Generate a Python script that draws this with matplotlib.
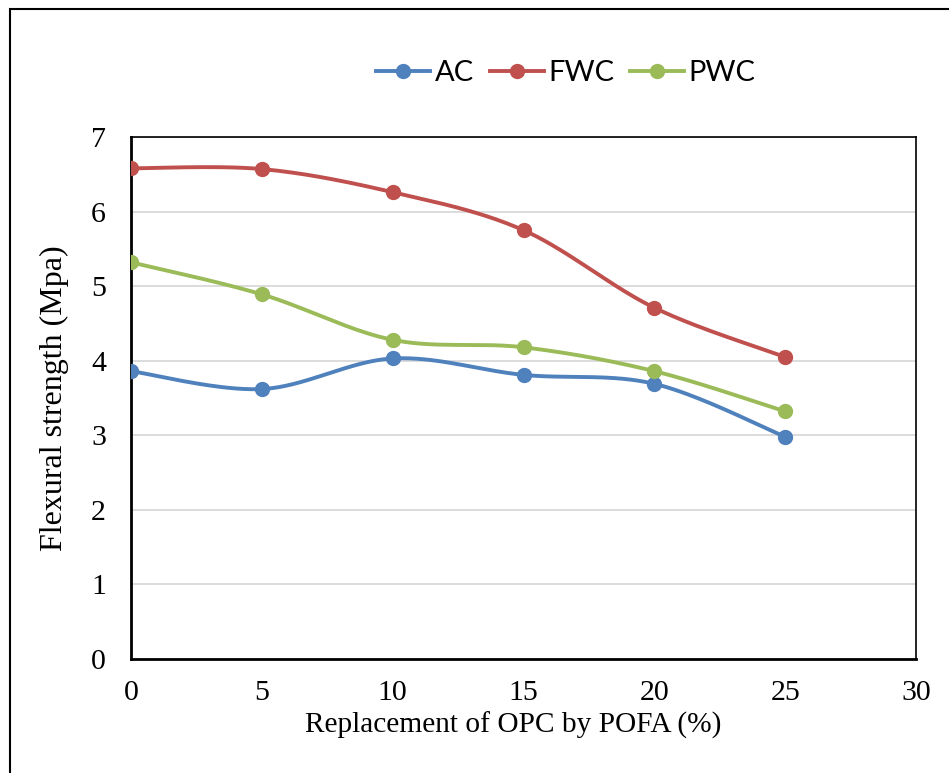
import numpy as np
import matplotlib
matplotlib.use("Agg")
import matplotlib.pyplot as plt
from matplotlib.patches import Rectangle

replacement = [0, 5, 10, 15, 20, 25]
ac = [3.86, 3.62, 4.03, 3.81, 3.69, 2.98]
fwc = [6.58, 6.57, 6.26, 5.75, 4.71, 4.05]
pwc = [5.32, 4.89, 4.28, 4.18, 3.86, 3.32]
series_names = ["AC", "FWC", "PWC"]
colors = ["#4F81BD", "#C0504D", "#9BBB59"]
x_ticks = [0, 5, 10, 15, 20, 25, 30]
y_ticks = [0, 1, 2, 3, 4, 5, 6, 7]


def smooth(x, y, n=40):
    x = np.asarray(x, float)
    y = np.asarray(y, float)
    px = np.concatenate([[x[0]], x, [x[-1]]])
    py = np.concatenate([[y[0]], y, [y[-1]]])
    xs, ys = [], []
    t = np.linspace(0, 1, n)
    for i in range(len(x) - 1):
        p0 = np.array([px[i], py[i]])
        p1 = np.array([px[i + 1], py[i + 1]])
        p2 = np.array([px[i + 2], py[i + 2]])
        p3 = np.array([px[i + 3], py[i + 3]])
        c1 = p1 + (p2 - p0) / 6.0
        c2 = p2 - (p3 - p1) / 6.0
        b = ((1 - t) ** 3)[:, None] * p1 + (3 * (1 - t) ** 2 * t)[:, None] * c1 \
            + (3 * (1 - t) * t ** 2)[:, None] * c2 + (t ** 3)[:, None] * p2
        xs.append(b[:, 0])
        ys.append(b[:, 1])
    return np.concatenate(xs), np.concatenate(ys)


fig = plt.figure(figsize=(9.49, 7.73), dpi=100)
fig.patches.append(Rectangle((10 / 949, -0.1), 1.2, (1 - 9 / 773) + 0.1,
                             transform=fig.transFigure, fill=False,
                             edgecolor="black", linewidth=1.5, zorder=0))

ax = fig.add_axes([131 / 949, 1 - 659 / 773, 785 / 949, 522 / 773])
ax.set_xlim(0, 30)
ax.set_ylim(0, 7)

handles = []
for name, vals, c in zip(series_names, [ac, fwc, pwc], colors):
    sx, sy = smooth(replacement, vals)
    ax.plot(sx, sy, color=c, linewidth=2.8, solid_capstyle="round", zorder=3)
    ax.plot(replacement, vals, linestyle="none", marker="o", markersize=10,
            color=c, zorder=4)
    h, = ax.plot([], [], color=c, linewidth=2.8, marker="o", markersize=10,
                 label=name)
    handles.append(h)

ax.set_xticks(x_ticks)
ax.set_yticks(y_ticks)
ax.grid(axis="y", color="#D9D9D9", linewidth=1.3, zorder=0)
ax.set_axisbelow(True)
ax.tick_params(axis="y", length=0, pad=18, labelsize=21.5)
ax.tick_params(axis="x", length=0, pad=15, labelsize=21.5)
for lbl in ax.get_xticklabels() + ax.get_yticklabels():
    lbl.set_fontfamily("Liberation Serif")
for s in ax.spines.values():
    s.set_color("black")
    s.set_linewidth(1.2)
ax.spines["left"].set_linewidth(2)
ax.spines["bottom"].set_linewidth(2)

fig.text(513.5 / 949, 1 - 725 / 773, "Replacement of OPC by POFA (%)",
         fontsize=21.2, fontfamily="Liberation Serif", ha="center", va="center")
ax.set_ylabel("Flexural strength (Mpa)", fontsize=23,
              fontfamily="Liberation Serif", labelpad=16)

leg = fig.legend(handles=handles, loc="center", bbox_to_anchor=(566 / 949, 1 - 73 / 773),
                 ncol=3, frameon=False, prop={"family": "Lato", "size": 21},
                 handlelength=1.85, handletextpad=0.15, columnspacing=0.55)

fig.savefig("out.png", dpi=100)
